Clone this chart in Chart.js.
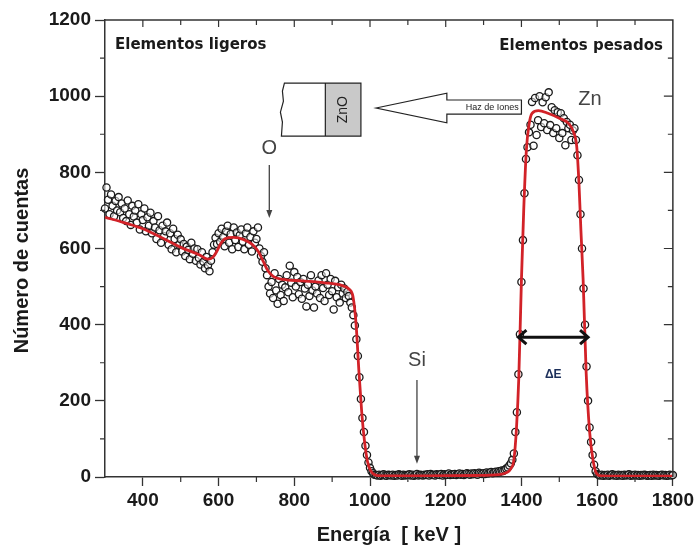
<!DOCTYPE html>
<html>
<head>
<meta charset="utf-8">
<script src="https://cdn.jsdelivr.net/npm/chart.js@4.4.0/dist/chart.umd.min.js"></script>
<style>
  html, body { margin: 0; padding: 0; background: #fff; }
</style>
</head>
<body>
<canvas id="rbs" width="697" height="550"></canvas>
<script>
// RBS spectrum of a ZnO film on Si (counts per channel)

const channelStart = 300;   // keV, first channel
const channelWidth = 4;     // keV per channel

const counts = [
    705, 760, 728, 690, 742, 712, 685, 725, 700, 735,
    695, 718, 680, 705, 672, 726, 690, 662, 712, 684,
    700, 668, 716, 650, 690, 675, 705, 645, 682, 660,
    694, 640, 672, 655, 625, 685, 648, 615, 660, 632,
    645, 668, 610, 640, 598, 652, 625, 590, 636, 610,
    624, 592, 612, 580, 605, 596, 572, 615, 586, 600,
    568, 598, 575, 558, 590, 565, 548, 578, 556, 540,
    568, 590, 610, 628, 612, 640, 618, 652, 630, 606,
    645, 660, 615, 638, 598, 655, 622, 642, 604, 635,
    650, 618, 598, 640, 655, 610, 630, 592, 645, 615,
    625, 655, 600, 580, 565, 590, 548, 530, 500, 482,
    512, 470, 535, 490, 455, 520, 478, 505, 462, 498,
    530, 485, 555, 510, 472, 538, 500, 525, 480, 512,
    468, 520, 495, 448, 505, 475, 530, 490, 445, 500,
    482, 516, 470, 530, 496, 462, 535, 505, 478, 520,
    488, 440, 515, 472, 498, 458, 505, 482, 495, 470,
    486, 475, 458, 445, 425, 398, 362, 318, 262, 205,
    155, 118, 82, 58, 38, 24, 15, 10, 6, 5,
    4, 6, 3, 5, 7, 4, 3, 6, 5, 4,
    6, 3, 5, 4, 7, 5, 3, 6, 4, 5,
    5, 7, 4, 6, 3, 5, 8, 4, 6, 5,
    4, 6, 5, 7, 4, 8, 5, 6, 4, 7,
    6, 5, 8, 4, 7, 5, 6, 9, 5, 7,
    6, 8, 5, 7, 9, 6, 8, 5, 7, 10,
    8, 6, 9, 7, 10, 8, 6, 11, 9, 8,
    10, 8, 12, 9, 11, 13, 10, 12, 14, 11,
    15, 14, 17, 16, 19, 22, 25, 30, 36, 45,
    62, 118, 170, 270, 375, 512, 622, 745, 835, 866,
    905, 925, 985, 870, 995, 898, 937, 1000, 919, 984,
    929, 997, 911, 1010, 924, 971, 903, 963, 916, 958,
    890, 955, 903, 942, 871, 932, 916, 925, 885, 910,
    916, 885, 845, 780, 690, 600, 495, 400, 290, 200,
    130, 92, 58, 32, 15, 8, 5, 4, 6, 3,
    5, 4, 6, 3, 5, 7, 4, 5, 3, 6,
    4, 5, 3, 6, 4, 5, 7, 3, 5, 4,
    6, 4, 5, 3, 5, 4, 6, 5, 3, 4,
    5, 3, 6, 4, 5, 4, 3, 5, 6, 4,
    5, 3, 4, 6, 4, 5
];

// simulated spectrum (red curve)
const fitEnergy = [
    300, 350, 400, 450, 500, 550, 572, 585, 595, 605,
    618, 640, 665, 690, 705, 718, 730, 745, 770, 820,
    880, 925, 945, 955, 963, 971, 978, 985, 993, 1002,
    1012, 1030, 1150, 1280, 1340, 1362, 1372, 1380, 1387, 1393,
    1400, 1406, 1413, 1420, 1428, 1445, 1470, 1500, 1525, 1538,
    1546, 1552, 1557, 1563, 1571, 1580, 1589, 1598, 1610, 1700,
    1800
];
const fitCounts = [
    682, 668, 652, 628, 603, 583, 572, 577, 592, 612,
    626, 629, 624, 610, 592, 566, 542, 526, 519, 515,
    510, 503, 493, 474, 404, 273, 172, 98, 42, 16,
    6, 3, 3, 4, 6, 12, 22, 45, 130, 260,
    517, 700, 858, 925, 955, 962, 955, 942, 928, 905,
    868, 770, 650, 517, 273, 120, 45, 10, 3, 2,
    2
];

const xTickValues = [400, 600, 800, 1000, 1200, 1400, 1600, 1800];
const yTickValues = [0, 200, 400, 600, 800, 1000, 1200];

const tickFont = { family: 'Arial, "Liberation Sans", sans-serif', size: 19, weight: 'bold' };
const titleFont = { family: 'Arial, "Liberation Sans", sans-serif', size: 20, weight: 'bold' };
const ink = '#1a1a1a';

function arrowHead(ctx, x, y, angle, len, half) {
    ctx.save();
    ctx.translate(x, y);
    ctx.rotate(angle);
    ctx.beginPath();
    ctx.moveTo(0, 0);
    ctx.lineTo(-len, -half);
    ctx.lineTo(-len, half);
    ctx.closePath();
    ctx.fill();
    ctx.restore();
}

function chevron(ctx, x, y, dir, len, half) {
    ctx.beginPath();
    ctx.moveTo(x - dir * len, y - half);
    ctx.lineTo(x, y);
    ctx.lineTo(x - dir * len, y + half);
    ctx.stroke();
}

// frame, minor ticks, y title and the labels drawn over the plot
const annotate = {
    id: 'annotate',
    afterDraw(chart) {
        const { ctx, chartArea: a, scales: { x, y } } = chart;
        const X = v => x.getPixelForValue(v);
        const Y = v => y.getPixelForValue(v);
        ctx.save();

        ctx.strokeStyle = '#333';
        ctx.lineWidth = 1.5;
        ctx.beginPath();
        ctx.moveTo(a.left, a.top);
        ctx.lineTo(a.right, a.top);
        ctx.lineTo(a.right, a.bottom);
        ctx.stroke();

        ctx.lineWidth = 1.2;
        ctx.beginPath();
        for (let e = 400; e <= 1700; e += 100) {
            const px = X(e), major = e % 200 === 0;
            ctx.moveTo(px, a.top);
            ctx.lineTo(px, a.top + (major ? 7 : 5));
            if (!major) { ctx.moveTo(px, a.bottom); ctx.lineTo(px, a.bottom + 5); }
        }
        for (let c = 100; c <= 1100; c += 100) {
            const py = Y(c), major = c % 200 === 0;
            ctx.moveTo(a.right, py);
            ctx.lineTo(a.right - (major ? 9 : 5), py);
            if (!major) { ctx.moveTo(a.left, py); ctx.lineTo(a.left - 5, py); }
        }
        ctx.stroke();

        // y axis title, sits a little below the middle of the axis
        ctx.save();
        ctx.translate(22, (a.top + a.bottom) / 2 + 12);
        ctx.rotate(-Math.PI / 2);
        ctx.fillStyle = ink;
        ctx.font = 'bold 20px Arial, "Liberation Sans", sans-serif';
        ctx.textAlign = 'center';
        ctx.textBaseline = 'middle';
        ctx.fillText('Número de cuentas', 0, 0);
        ctx.restore();

        // region labels
        ctx.fillStyle = ink;
        ctx.textBaseline = 'middle';
        ctx.font = 'bold 15px "DejaVu Sans", sans-serif';
        ctx.textAlign = 'left';
        ctx.fillText('Elementos ligeros', a.left + 10, a.top + 25);
        ctx.textAlign = 'right';
        ctx.fillText('Elementos pesados', a.right - 10, a.top + 26);

        // element markers
        ctx.fillStyle = '#444';
        ctx.strokeStyle = '#444';
        ctx.font = '20px Arial, "Liberation Sans", sans-serif';
        ctx.textAlign = 'center';
        ctx.fillText('O', X(734), Y(863));
        ctx.fillText('Si', X(1124), Y(307));
        ctx.textAlign = 'left';
        ctx.fillText('Zn', X(1550), Y(990));

        ctx.lineWidth = 1.3;
        ctx.beginPath();
        ctx.moveTo(X(734), Y(819)); ctx.lineTo(X(734), Y(680) - 4);
        ctx.moveTo(X(1124), Y(255)); ctx.lineTo(X(1124), Y(35) - 4);
        ctx.stroke();
        arrowHead(ctx, X(734), Y(680), Math.PI / 2, 8, 3);
        arrowHead(ctx, X(1124), Y(35), Math.PI / 2, 8, 3);

        // width of the Zn peak
        ctx.strokeStyle = '#111';
        ctx.lineWidth = 3;
        ctx.beginPath();
        ctx.moveTo(X(1392), Y(367)); ctx.lineTo(X(1576), Y(367));
        ctx.stroke();
        chevron(ctx, X(1392), Y(367), -1, 8, 7);
        chevron(ctx, X(1576), Y(367), 1, 8, 7);
        ctx.fillStyle = '#1c2f5a';
        ctx.font = 'bold 12px Arial, "Liberation Sans", sans-serif';
        ctx.textAlign = 'center';
        ctx.fillText('ΔE', X(1484), Y(268));

        // sample sketch: ZnO layer on substrate
        const l = X(766), r = X(976), d = X(882), t = Y(1034), b = Y(895);
        ctx.fillStyle = '#c9c9c9';
        ctx.fillRect(d, t, r - d, b - t);
        ctx.strokeStyle = '#222';
        ctx.lineWidth = 1.2;
        ctx.beginPath();
        ctx.moveTo(l + 3, t);
        ctx.lineTo(r, t);
        ctx.lineTo(r, b);
        ctx.lineTo(l, b);
        ctx.lineTo(l + 1, b - 14);
        ctx.lineTo(l - 1, b - 24);
        ctx.lineTo(l + 2, b - 35);
        ctx.lineTo(l + 1, b - 45);
        ctx.closePath();
        ctx.moveTo(d, t); ctx.lineTo(d, b);
        ctx.stroke();
        ctx.save();
        ctx.translate((d + r) / 2, (t + b) / 2);
        ctx.rotate(-Math.PI / 2);
        ctx.fillStyle = '#222';
        ctx.font = '14px Arial, "Liberation Sans", sans-serif';
        ctx.fillText('ZnO', 0, 0);
        ctx.restore();

        // hollow arrow for the incoming ion beam
        const tip = X(1016), base = X(1203), tail = X(1400);
        ctx.fillStyle = '#fff';
        ctx.beginPath();
        ctx.moveTo(tip, Y(969));
        ctx.lineTo(base, Y(1008));
        ctx.lineTo(base, Y(990));
        ctx.lineTo(tail, Y(990));
        ctx.lineTo(tail, Y(953));
        ctx.lineTo(base, Y(953));
        ctx.lineTo(base, Y(930));
        ctx.closePath();
        ctx.fill();
        ctx.stroke();
        ctx.fillStyle = '#222';
        ctx.font = '9px Arial, "Liberation Sans", sans-serif';
        ctx.fillText('Haz de Iones', (base + tail) / 2 + 8, Y(971));

        ctx.restore();
    }
};

new Chart(document.getElementById('rbs'), {
    type: 'scatter',
    data: {
        datasets: [
            {
                label: 'Simulación',
                data: fitEnergy.map((e, i) => ({ x: e, y: fitCounts[i] })),
                showLine: true,
                borderColor: 'rgb(210, 34, 40)',
                borderWidth: 2.8,
                pointRadius: 0,
                cubicInterpolationMode: 'monotone',
                order: 0
            },
            {
                label: 'Experimental',
                data: counts.map((c, i) => ({ x: channelStart + i * channelWidth, y: c })),
                pointRadius: 3.6,
                pointBorderWidth: 1.3,
                pointBorderColor: '#1a1a1a',
                pointBackgroundColor: 'rgba(255, 255, 255, 0.55)',
                clip: false,
                order: 1
            }
        ]
    },
    options: {
        responsive: false,
        animation: false,
        events: [],
        layout: { padding: { top: 20, right: 22, left: 0, bottom: 0 } },
        plugins: {
            legend: { display: false },
            tooltip: { enabled: false }
        },
        scales: {
            x: {
                type: 'linear',
                min: 300,
                max: 1800,
                afterBuildTicks: s => { s.ticks = xTickValues.map(v => ({ value: v })); },
                afterFit: s => { s.height = 73; },
                grid: { drawOnChartArea: false, tickLength: 9, tickColor: '#333', tickWidth: 1.3 },
                border: { color: '#333', width: 1.5 },
                ticks: { callback: v => String(v), font: tickFont, color: ink, padding: 3, maxRotation: 0 },
                title: { display: true, text: 'Energía  [ keV ]', font: titleFont, color: ink, padding: { top: 0, bottom: 3 } }
            },
            y: {
                min: 0,
                max: 1200,
                afterBuildTicks: s => { s.ticks = yTickValues.map(v => ({ value: v })); },
                afterFit: s => { s.width = 105; },
                grid: { drawOnChartArea: false, tickLength: 10, tickColor: '#333', tickWidth: 1.3 },
                border: { color: '#333', width: 1.5 },
                ticks: { callback: v => String(v), font: tickFont, color: ink, padding: 4 }
            }
        }
    },
    plugins: [annotate]
});
</script>
</body>
</html>
